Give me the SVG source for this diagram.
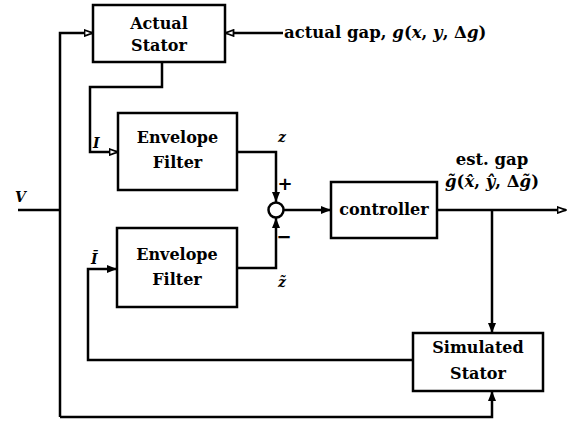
<svg xmlns="http://www.w3.org/2000/svg" width="569" height="423" viewBox="0 0 569 423">
  <style>
    .box { fill: #fff; stroke: #000; stroke-width: 2.5; }
    .wire { fill: none; stroke: #000; stroke-width: 2.5; }
    .lbl { font-family: "DejaVu Serif", "Liberation Serif", serif; font-weight: bold; font-size: 16px; fill: #000; text-anchor: middle; }
    .math { font-family: "DejaVu Serif", "Liberation Serif", serif; font-style: italic; font-weight: bold; font-size: 14px; fill: #000; }
    .sign { font-family: "DejaVu Sans", "Liberation Sans", sans-serif; font-weight: bold; font-size: 18px; fill: #000; text-anchor: middle; }
    .note { font-family: "DejaVu Serif", "Liberation Serif", serif; font-weight: bold; font-size: 16.5px; fill: #000; }
  </style>
  <defs>
    <marker id="solid" viewBox="0 0 10 8" refX="10" refY="4" markerWidth="10" markerHeight="8" markerUnits="userSpaceOnUse" orient="auto">
      <path d="M0,0 L10,4 L0,8 Z" fill="#000"/>
    </marker>
    <marker id="hollow" viewBox="0 0 10 8" refX="9.5" refY="4" markerWidth="10" markerHeight="8" markerUnits="userSpaceOnUse" orient="auto">
      <path d="M1,1 L9,4 L1,7 Z" fill="#fff" stroke="#000" stroke-width="1.8"/>
    </marker>
  </defs>

  <!-- signal lines -->
  <g id="connectors">
    <!-- V supply rail into actual stator -->
    <path class="wire" d="M18,210 H60"/>
    <path class="wire" d="M60,417 V33 H93" marker-end="url(#hollow)"/>
    <!-- actual gap input -->
    <path class="wire" d="M283,33 H225" marker-end="url(#hollow)"/>
    <!-- measured current I -->
    <path class="wire" d="M162,62 V87 H90 V152 H118" marker-end="url(#hollow)"/>
    <!-- filter outputs to the summing junction -->
    <path class="wire" d="M237,152 H276 V202" marker-end="url(#solid)"/>
    <path class="wire" d="M237,268 H276 V218" marker-end="url(#solid)"/>
    <!-- error to controller -->
    <path class="wire" d="M283.5,210 H331" marker-end="url(#solid)"/>
    <!-- estimated gap output -->
    <path class="wire" d="M437,210 H566" marker-end="url(#hollow)"/>
    <path class="wire" d="M492,210 V333" marker-end="url(#solid)"/>
    <!-- simulated current back to the lower filter -->
    <path class="wire" d="M413,360 H88 V269 H117" marker-end="url(#solid)"/>
    <!-- V to the simulated stator -->
    <path class="wire" d="M60,417 H492 V391" marker-end="url(#solid)"/>
  </g>

  <g id="actual-stator">
    <rect class="box" x="93" y="5" width="132" height="57"/>
    <text class="lbl" x="159" y="29">Actual</text>
    <text class="lbl" x="159" y="51">Stator</text>
  </g>

  <g id="envelope-filter-1">
    <rect class="box" x="118" y="113" width="119" height="77"/>
    <text class="lbl" x="177.5" y="143">Envelope</text>
    <text class="lbl" x="177.5" y="168">Filter</text>
  </g>

  <g id="envelope-filter-2">
    <rect class="box" x="117" y="228" width="120" height="79"/>
    <text class="lbl" x="177" y="260">Envelope</text>
    <text class="lbl" x="177" y="285">Filter</text>
  </g>

  <g id="sum">
    <circle cx="276" cy="210" r="7.5" fill="#fff" stroke="#000" stroke-width="2.5"/>
    <text class="sign" x="285" y="190">+</text>
    <text class="sign" x="284" y="243">−</text>
  </g>

  <g id="controller">
    <rect class="box" x="331" y="182" width="106" height="56"/>
    <text class="lbl" x="384" y="215">controller</text>
  </g>

  <g id="simulated-stator">
    <rect class="box" x="413" y="333" width="130" height="58"/>
    <text class="lbl" x="478" y="353">Simulated</text>
    <text class="lbl" x="478" y="379">Stator</text>
  </g>

  <!-- signal labels -->
  <g id="labels">
    <text class="math" x="15" y="202">V</text>
    <text class="math" x="93" y="148">I</text>
    <text class="math" x="91" y="264">Ī</text>
    <text class="math" x="278" y="142">z</text>
    <text class="math" x="278" y="287">z̃</text>
    <text class="note" x="284" y="38"><tspan>actual gap, </tspan><tspan font-style="italic">g</tspan><tspan>(</tspan><tspan font-style="italic">x</tspan><tspan>, </tspan><tspan font-style="italic">y</tspan><tspan>, Δ</tspan><tspan font-style="italic">g</tspan><tspan>)</tspan></text>
    <text class="note" x="492" y="165" text-anchor="middle">est. gap</text>
    <text class="note" x="492" y="187" text-anchor="middle"><tspan font-style="italic">g̃</tspan><tspan>(</tspan><tspan font-style="italic">x̂</tspan><tspan>, </tspan><tspan font-style="italic">ŷ</tspan><tspan>, Δ</tspan><tspan font-style="italic">g̃</tspan><tspan>)</tspan></text>
  </g>
</svg>
